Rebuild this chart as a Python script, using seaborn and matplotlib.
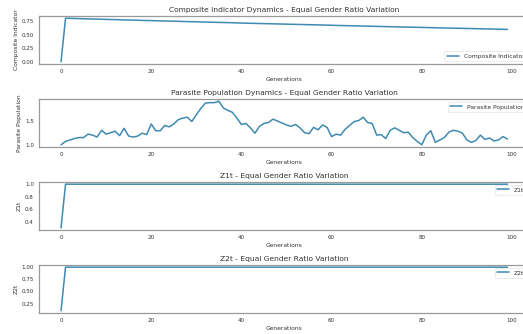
import matplotlib
matplotlib.use("Agg")
import matplotlib.pyplot as plt
import seaborn as sns

# generations on the x axis
generations = list(range(100))

composite_indicator = [
    0.000, 0.800, 0.798, 0.795, 0.793, 0.790, 0.788, 0.786, 0.783, 0.781,
    0.779, 0.776, 0.774, 0.772, 0.769, 0.767, 0.765, 0.763, 0.760, 0.758,
    0.756, 0.754, 0.751, 0.749, 0.747, 0.745, 0.743, 0.740, 0.738, 0.736,
    0.734, 0.731, 0.729, 0.727, 0.725, 0.723, 0.721, 0.719, 0.717, 0.714,
    0.712, 0.709, 0.707, 0.705, 0.703, 0.701, 0.699, 0.697, 0.695, 0.693,
    0.691, 0.689, 0.687, 0.685, 0.683, 0.681, 0.679, 0.677, 0.675, 0.673,
    0.671, 0.668, 0.666, 0.664, 0.662, 0.660, 0.658, 0.656, 0.654, 0.652,
    0.650, 0.648, 0.646, 0.644, 0.642, 0.640, 0.638, 0.637, 0.635, 0.633,
    0.631, 0.629, 0.627, 0.625, 0.623, 0.621, 0.619, 0.617, 0.616, 0.614,
    0.612, 0.610, 0.608, 0.606, 0.604, 0.603, 0.601, 0.599, 0.597, 0.595,
]

parasite_population = [
    1.00, 1.07, 1.10, 1.13, 1.15, 1.15, 1.22, 1.20, 1.16, 1.30,
    1.22, 1.25, 1.28, 1.19, 1.34, 1.18, 1.16, 1.18, 1.24, 1.21,
    1.43, 1.29, 1.29, 1.40, 1.37, 1.43, 1.52, 1.55, 1.57, 1.48,
    1.62, 1.75, 1.86, 1.87, 1.87, 1.90, 1.76, 1.71, 1.67, 1.55,
    1.42, 1.44, 1.35, 1.24, 1.38, 1.44, 1.46, 1.53, 1.49, 1.45,
    1.41, 1.38, 1.42, 1.35, 1.25, 1.23, 1.36, 1.31, 1.41, 1.36,
    1.17, 1.22, 1.20, 1.32, 1.40, 1.48, 1.50, 1.57, 1.46, 1.44,
    1.20, 1.21, 1.13, 1.30, 1.35, 1.30, 1.25, 1.26, 1.15, 1.07,
    1.00, 1.20, 1.29, 1.05, 1.10, 1.15, 1.26, 1.30, 1.28, 1.24,
    1.10, 1.05, 1.09, 1.20, 1.11, 1.14, 1.08, 1.10, 1.17, 1.12,
]

z1t = [0.3] + [1.0] * 99
z2t = [0.1] + [1.0] * 99

x_ticks = [0, 20, 40, 60, 80, 100]
y_ticks = [
    [0.00, 0.25, 0.50, 0.75],
    [1.0, 1.5],
    [0.4, 0.6, 0.8, 1.0],
    [0.25, 0.50, 0.75, 1.00],
]
y_fmt = ["%.2f", "%.1f", "%.1f", "%.2f"]

panels = [
    (composite_indicator, "Composite Indicator", "Composite Indicator Dynamics - Equal Gender Ratio Variation", "lower right"),
    (parasite_population, "Parasite Population", "Parasite Population Dynamics - Equal Gender Ratio Variation", "upper right"),
    (z1t, "Z1t", "Z1t - Equal Gender Ratio Variation", "upper right"),
    (z2t, "Z2t", "Z2t - Equal Gender Ratio Variation", "upper right"),
]

sns.set_style("white")
plt.rcParams["font.family"] = ["DejaVu Sans"]
line_color = "#3f8ab0"
edge = "#9a9a9a"
text = "#333333"

fig, axes = plt.subplots(4, 1, figsize=(5.23, 3.34), dpi=100)
fig.subplots_adjust(left=0.074, right=1.013, top=0.952, bottom=0.063, hspace=0.73)

for i, (ax, (values, label, title, loc)) in enumerate(zip(axes, panels)):
    sns.lineplot(x=generations, y=values, ax=ax, color=line_color, linewidth=1.1, label=label)
    ax.set_title(title, fontsize=5.4, color=text, pad=3)
    ax.set_xlabel("Generations", fontsize=4.3, color=text, labelpad=2)
    ax.set_ylabel(label, fontsize=4.3, color=text, labelpad=2)
    ax.set_xticks(x_ticks)
    ax.set_yticks(y_ticks[i])
    ax.set_yticklabels([y_fmt[i] % v for v in y_ticks[i]])
    ax.tick_params(axis="both", labelsize=4.1, colors=text, length=2, width=0.6, pad=1.5, color=edge)
    for sp in ax.spines.values():
        sp.set_color(edge)
        sp.set_linewidth(0.9)
    leg = ax.legend(loc=loc, fontsize=4.3, frameon=True)
    leg.get_frame().set_edgecolor("#dddddd")
    leg.get_frame().set_linewidth(0.5)
    for t in leg.get_texts():
        t.set_color(text)

fig.savefig("out.png", dpi=100)
